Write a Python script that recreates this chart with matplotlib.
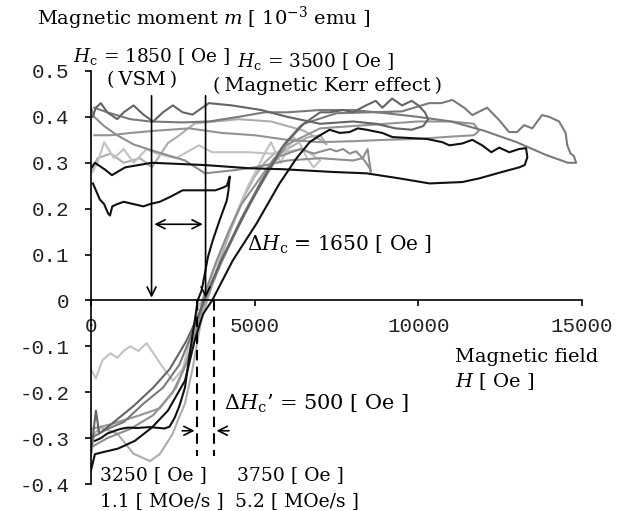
import matplotlib
matplotlib.use("Agg")
import matplotlib.pyplot as plt

plt.rcParams["mathtext.fontset"] = "dejavuserif"
plt.rcParams["axes.unicode_minus"] = False

# y ticks / x ticks
y_ticks = [-0.4, -0.3, -0.2, -0.1, 0, 0.1, 0.2, 0.3, 0.4, 0.5]
y_labels = ["-0.4", "-0.3", "-0.2", "-0.1", "0", "0.1", "0.2", "0.3", "0.4", "0.5"]
x_ticks = [0, 5000, 10000, 15000]
x_labels = ["0", "5000", "10000", "15000"]

# black loop (long, ends near 13300 Oe)
A_H = [0, 120, 400, 820, 1340, 1860, 2350, 2870, 3170, 3420, 3700, 4330, 5060, 5760, 6280,
       6680, 7000, 7290, 7600, 7900, 8150, 8420, 8900, 9210, 9730, 10250, 10730, 10950, 11340,
       11650, 11950, 12230, 12470, 12780, 13080, 13290, 13330, 13250, 13080, 12560, 11860,
       11340, 10340, 9420, 8420, 7380, 5850, 4850, 3480, 1860, 1040, 640, 430, 120, 20]
A_m = [-0.37, -0.335, -0.33, -0.323, -0.306, -0.277, -0.24, -0.175, -0.087, -0.03, 0.0, 0.087,
       0.168, 0.255, 0.31, 0.345, 0.36, 0.372, 0.365, 0.367, 0.375, 0.372, 0.365, 0.356, 0.354,
       0.352, 0.345, 0.338, 0.342, 0.35, 0.338, 0.323, 0.333, 0.323, 0.33, 0.332, 0.312, 0.295,
       0.29, 0.28, 0.266, 0.258, 0.255, 0.266, 0.277, 0.28, 0.286, 0.288, 0.295, 0.30, 0.29,
       0.273, 0.285, 0.30, 0.29]

# black partial loop (spike at ~4200 Oe)
B_H = [60, 150, 270, 400, 520, 580, 650, 800, 1000, 1300, 1600, 1800, 2100, 2400, 2800, 3100,
       3500, 3800, 4000, 4150, 4240, 4200, 4150, 3930, 3720, 3570, 3480, 3380, 3260, 3170, 3050,
       2870, 2700, 2560, 2400, 2250, 1800, 1400, 1130, 900, 730, 500, 300, 120]
B_m = [0.255, 0.24, 0.22, 0.21, 0.19, 0.185, 0.205, 0.21, 0.215, 0.21, 0.205, 0.21, 0.215,
       0.225, 0.24, 0.24, 0.24, 0.24, 0.245, 0.25, 0.27, 0.24, 0.218, 0.175, 0.131, 0.094, 0.059,
       0.022, 0.0, -0.044, -0.1, -0.19, -0.23, -0.255, -0.275, -0.279, -0.276, -0.278, -0.277,
       -0.28, -0.284, -0.29, -0.3, -0.306]

# dark gray, wavy top
C_H = [0, 150, 250, 700, 1300, 1900, 2400, 2900, 3300, 3450, 4000, 4700, 5400, 5900, 6400,
       7000, 7300, 7700, 8000, 8400, 8700, 8900, 9200, 9500, 9800, 10000, 10200, 10300, 10150,
       9800, 9300, 8700, 8000, 7000, 6000, 5200, 4300, 3600, 3400, 3100, 2800, 2500, 2200, 1900,
       1600, 1300, 1000, 800, 500, 300, 150, 50]
C_m = [-0.33, -0.24, -0.29, -0.265, -0.23, -0.19, -0.15, -0.09, -0.03, 0.0, 0.09, 0.19, 0.28,
       0.34, 0.38, 0.41, 0.41, 0.415, 0.41, 0.425, 0.435, 0.42, 0.44, 0.425, 0.435, 0.425, 0.41,
       0.395, 0.38, 0.372, 0.375, 0.385, 0.39, 0.385, 0.40, 0.415, 0.425, 0.43, 0.42, 0.405,
       0.41, 0.425, 0.41, 0.39, 0.405, 0.425, 0.41, 0.395, 0.41, 0.43, 0.42, 0.40]

# gray, longest (to ~14800 Oe)
D_H = [0, 500, 1000, 1600, 2200, 2700, 3100, 3450, 4000, 4600, 5200, 5800, 6500, 7500, 8500,
       9500, 10330, 10700, 11040, 11400, 11650, 12100, 12470, 12770, 13020, 13230, 13480, 13780,
       14000, 14300, 14500, 14550, 14650, 14750, 14820, 14570, 13900, 13000, 12000, 11000,
       10000, 9000, 8000, 7000, 6000, 5300, 4500, 3600, 2800, 1800, 1200, 500, 100]
D_m = [-0.30, -0.28, -0.265, -0.225, -0.19, -0.14, -0.07, 0.0, 0.09, 0.18, 0.26, 0.33, 0.385,
       0.408, 0.41, 0.412, 0.43, 0.43, 0.437, 0.42, 0.404, 0.42, 0.393, 0.367, 0.367, 0.382,
       0.375, 0.404, 0.40, 0.39, 0.365, 0.338, 0.32, 0.315, 0.30, 0.30, 0.317, 0.345, 0.37, 0.39,
       0.40, 0.408, 0.415, 0.415, 0.41, 0.41, 0.40, 0.39, 0.388, 0.39, 0.395, 0.41, 0.42]

# mid gray, loop ending ~11800 Oe
E_H = [0, 600, 1500, 2100, 2600, 3000, 3350, 3500, 4000, 4500, 5000, 5500, 6000, 7000, 8000,
       9000, 10000, 11000, 11700, 11850, 11700, 11000, 10000, 9000, 8000, 7000, 6000, 5000,
       4000, 3000, 2000, 1200, 600, 100]
E_m = [-0.28, -0.27, -0.25, -0.235, -0.19, -0.12, -0.03, 0.0, 0.085, 0.16, 0.23, 0.29, 0.34,
       0.375, 0.38, 0.385, 0.39, 0.39, 0.385, 0.37, 0.36, 0.357, 0.352, 0.35, 0.347, 0.345, 0.35,
       0.36, 0.365, 0.375, 0.37, 0.365, 0.36, 0.36]

# light gray, dips to -0.35
F_H = [0, 100, 300, 800, 1300, 1800, 2100, 2500, 2650, 2870, 3100, 3350, 3550, 3900, 4300,
       4700, 5000, 5300, 5600, 6000, 6600, 7000, 7200, 7000, 6500, 5500, 4500, 3800, 3170, 2700,
       2350, 1860, 1500, 1000, 600, 200, 0]
F_m = [-0.34, -0.29, -0.277, -0.29, -0.334, -0.35, -0.335, -0.29, -0.262, -0.225, -0.15, -0.05,
       0.0, 0.08, 0.16, 0.23, 0.27, 0.30, 0.32, 0.33, 0.355, 0.36, 0.34, 0.35, 0.37, 0.39, 0.395,
       0.39, 0.386, 0.36, 0.343, 0.29, 0.31, 0.30, 0.32, 0.31, 0.28]

# very light gray, starts at -0.15
G_H = [0, 150, 350, 600, 800, 1000, 1200, 1450, 1700, 1950, 2200, 2500, 2800, 3050, 3300, 3400,
       3700, 4100, 4500, 4800, 5100, 5300, 5500, 5650, 5800, 6000, 6200, 6400, 6600, 6800, 7000,
       6500, 5500, 4800, 4200, 3700, 3300, 2600, 2000, 1700, 1300, 1000, 700, 400, 200, 50]
G_m = [-0.15, -0.17, -0.13, -0.115, -0.125, -0.11, -0.1, -0.11, -0.093, -0.12, -0.146, -0.175,
       -0.15, -0.08, -0.01, 0.0, 0.055, 0.13, 0.2, 0.25, 0.29, 0.32, 0.345, 0.32, 0.30, 0.33,
       0.355, 0.34, 0.31, 0.29, 0.305, 0.33, 0.32, 0.323, 0.323, 0.323, 0.338, 0.31, 0.32, 0.33,
       0.30, 0.33, 0.31, 0.345, 0.30, 0.28]

# gray, jagged end ~8500 Oe
H_H = [0, 500, 1200, 1900, 2500, 2900, 3300, 3400, 3800, 4200, 4600, 5000, 5300, 5600, 6000,
       6400, 6800, 7300, 7500, 7700, 7900, 8100, 8300, 8450, 8550, 8500, 8300, 8000, 7000, 6000,
       5000, 4390, 3480, 2870, 1860, 1300, 800, 400, 100, 0]
H_m = [-0.32, -0.30, -0.28, -0.25, -0.20, -0.14, -0.04, 0.0, 0.08, 0.15, 0.21, 0.25, 0.28, 0.31,
       0.32, 0.33, 0.32, 0.33, 0.325, 0.33, 0.32, 0.325, 0.31, 0.33, 0.28, 0.29, 0.31, 0.305,
       0.31, 0.305, 0.29, 0.284, 0.277, 0.305, 0.327, 0.34, 0.36, 0.38, 0.40, 0.42]

curves = [
    (F_H, F_m, "#adadad"),
    (G_H, G_m, "#c2c2c2"),
    (H_H, H_m, "#8e8e8e"),
    (E_H, E_m, "#949494"),
    (D_H, D_m, "#7a7a7a"),
    (C_H, C_m, "#646464"),
    (A_H, A_m, "#111111"),
    (B_H, B_m, "#111111"),
]

W, Hpx = 627, 511
fig = plt.figure(figsize=(W / 100, Hpx / 100), dpi=100)
ax = fig.add_axes([91 / W, 1 - 484 / Hpx, (582 - 91) / W, (484 - 71) / Hpx])
ax.set_xlim(0, 15000)
ax.set_ylim(-0.4, 0.5)

for hx, my, col in curves:
    ax.plot(hx, my, color=col, lw=1.5, solid_joinstyle="round", zorder=2)

for s in ["top", "right"]:
    ax.spines[s].set_visible(False)
ax.spines["bottom"].set_position(("data", 0))
ax.spines["left"].set_linewidth(1.2)
ax.spines["bottom"].set_linewidth(1.2)

ax.set_yticks(y_ticks)
ax.set_yticklabels(y_labels, family="Liberation Mono", fontsize=15, color="#222222")
ax.set_xticks(x_ticks)
ax.set_xticklabels(x_labels, family="Liberation Mono", fontsize=15, color="#222222")
ax.tick_params(axis="y", direction="out", length=4.5, width=1.2, pad=11)
ax.tick_params(axis="x", direction="out", length=4, width=1.2, pad=8)

# coercivity markers
arr = dict(arrowstyle="->", color="k", lw=1.2, mutation_scale=16)
ax.annotate("", xy=(1850, 0), xytext=(1850, 0.452), arrowprops=arr)
ax.annotate("", xy=(3500, 0), xytext=(3500, 0.452), arrowprops=arr)
ax.annotate("", xy=(1850, 0.166), xytext=(3500, 0.166),
            arrowprops=dict(arrowstyle="<->", color="k", lw=1.2, mutation_scale=16))
ax.plot([3250, 3250], [0, -0.34], color="k", lw=1.5, ls=(0, (5, 3)), zorder=3)
ax.plot([3750, 3750], [0, -0.34], color="k", lw=1.5, ls=(0, (5, 3)), zorder=3)
ax.annotate("", xy=(3250, -0.284), xytext=(2700, -0.284), arrowprops=arr)
ax.annotate("", xy=(3750, -0.284), xytext=(4300, -0.284), arrowprops=arr)


def ftext(px, py, s, size=14):
    # px: left edge, py: baseline (pixels from top)
    fig.text(px / W, 1 - py / Hpx, s, ha="left", va="baseline", family="DejaVu Serif",
             fontsize=size)


ftext(37, 25, "Magnetic moment $m$ [ 10$^{-3}$ emu ]")
ftext(73, 62, "$H_\\mathrm{c}$ = 1850 [ Oe ]", 13.3)
ftext(237, 67, "$H_\\mathrm{c}$ = 3500 [ Oe ]", 13.3)
ftext(107, 85, "(\u2009VSM\u2009)")
ftext(213, 91, "(\u2009Magnetic Kerr effect\u2009)")
ftext(247, 251, "$\\Delta H_\\mathrm{c}$ = 1650 [ Oe ]", 14.5)
ftext(224, 410, "$\\Delta H_\\mathrm{c}$\u2019 = 500 [ Oe ]", 15)
ftext(100, 480, "3250 [ Oe ]", 13.5)
ftext(100, 506, "1.1 [ MOe/s ]", 13.5)
ftext(237, 480, "3750 [ Oe ]", 13.5)
ftext(235, 506, "5.2 [ MOe/s ]", 13.5)
ftext(455, 362, "Magnetic field")
ftext(455, 387, "$H$ [ Oe ]")

fig.savefig("out.png", dpi=100)
